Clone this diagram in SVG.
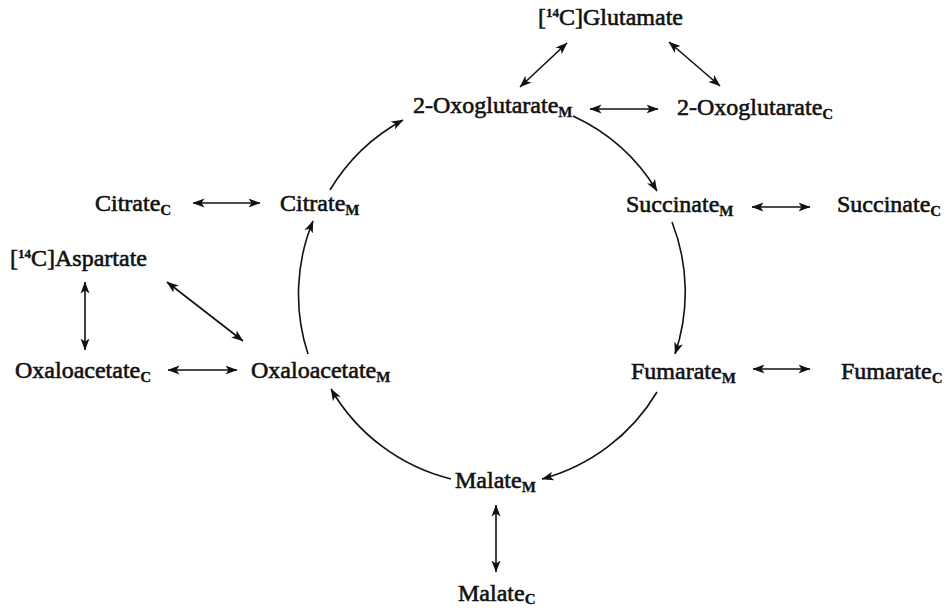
<svg xmlns="http://www.w3.org/2000/svg" width="945" height="610" viewBox="0 0 945 610">
<style>
  .lbl { font-family: "Liberation Serif", "Times New Roman", serif; font-size: 24px; fill: #111; stroke: #111; stroke-width: 0.6; }
  .sub { font-size: 15px; font-weight: bold; stroke-width: 0.3; }
  .sup { font-size: 13px; font-weight: bold; stroke-width: 0.3; }
  .c { fill: none; stroke: #111; stroke-width: 1.6; }
</style>
<defs>
  <marker id="ah" viewBox="0 0 12 10" refX="11.5" refY="5" markerWidth="12" markerHeight="10" orient="auto-start-reverse" markerUnits="userSpaceOnUse">
    <path d="M0,0.5 L12,5 L0,9.5 L3,5 z" fill="#111"/>
  </marker>
</defs>
<rect width="945" height="610" fill="#fff"/>

<g id="connectors">
  <line class="c" x1="567" y1="43" x2="520" y2="87" marker-start="url(#ah)" marker-end="url(#ah)"/>
  <line class="c" x1="669" y1="42" x2="720" y2="86" marker-start="url(#ah)" marker-end="url(#ah)"/>
  <line class="c" x1="590" y1="109" x2="658" y2="109" marker-start="url(#ah)" marker-end="url(#ah)"/>
  <line class="c" x1="193" y1="203" x2="260" y2="203" marker-start="url(#ah)" marker-end="url(#ah)"/>
  <line class="c" x1="85" y1="282" x2="85" y2="350" marker-start="url(#ah)" marker-end="url(#ah)"/>
  <line class="c" x1="167" y1="282" x2="243" y2="341" marker-start="url(#ah)" marker-end="url(#ah)"/>
  <line class="c" x1="168" y1="370" x2="237" y2="370" marker-start="url(#ah)" marker-end="url(#ah)"/>
  <line class="c" x1="752" y1="207" x2="810" y2="207" marker-start="url(#ah)" marker-end="url(#ah)"/>
  <line class="c" x1="753" y1="369" x2="810" y2="369" marker-start="url(#ah)" marker-end="url(#ah)"/>
  <line class="c" x1="496" y1="505" x2="496" y2="572" marker-start="url(#ah)" marker-end="url(#ah)"/>
  <path class="c" d="M308,354 A192,192 0 0 1 313,221" marker-end="url(#ah)"/>
  <path class="c" d="M330,190 A192,192 0 0 1 403,120" marker-end="url(#ah)"/>
  <path class="c" d="M573,116 A192,192 0 0 1 657,191" marker-end="url(#ah)"/>
  <path class="c" d="M672,222 A192,192 0 0 1 675,354" marker-end="url(#ah)"/>
  <path class="c" d="M657,392 A192,192 0 0 1 542,479" marker-end="url(#ah)"/>
  <path class="c" d="M451,479 A192,192 0 0 1 331,389" marker-end="url(#ah)"/>
</g>

<g id="glutamate"><text class="lbl" x="538" y="25">[<tspan class="sup" dy="-8">14</tspan><tspan dy="8">C]Glutamate</tspan></text></g>
<g id="oxoglutarate-m"><text class="lbl" x="413" y="113">2-Oxoglutarate<tspan class="sub" dy="4">M</tspan></text></g>
<g id="oxoglutarate-c"><text class="lbl" x="677" y="115">2-Oxoglutarate<tspan class="sub" dy="4">C</tspan></text></g>
<g id="citrate-c"><text class="lbl" x="95" y="211">Citrate<tspan class="sub" dy="4">C</tspan></text></g>
<g id="citrate-m"><text class="lbl" x="280" y="211">Citrate<tspan class="sub" dy="4">M</tspan></text></g>
<g id="succinate-m"><text class="lbl" x="626" y="212">Succinate<tspan class="sub" dy="4">M</tspan></text></g>
<g id="succinate-c"><text class="lbl" x="837" y="212">Succinate<tspan class="sub" dy="4">C</tspan></text></g>
<g id="aspartate"><text class="lbl" x="10" y="266">[<tspan class="sup" dy="-8">14</tspan><tspan dy="8">C]Aspartate</tspan></text></g>
<g id="oxaloacetate-c"><text class="lbl" x="15" y="378">Oxaloacetate<tspan class="sub" dy="4">C</tspan></text></g>
<g id="oxaloacetate-m"><text class="lbl" x="251" y="378">Oxaloacetate<tspan class="sub" dy="4">M</tspan></text></g>
<g id="fumarate-m"><text class="lbl" x="631" y="379">Fumarate<tspan class="sub" dy="4">M</tspan></text></g>
<g id="fumarate-c"><text class="lbl" x="841" y="379">Fumarate<tspan class="sub" dy="4">C</tspan></text></g>
<g id="malate-m"><text class="lbl" x="455" y="488">Malate<tspan class="sub" dy="4">M</tspan></text></g>
<g id="malate-c"><text class="lbl" x="458" y="601">Malate<tspan class="sub" dy="3">C</tspan></text></g>
</svg>
